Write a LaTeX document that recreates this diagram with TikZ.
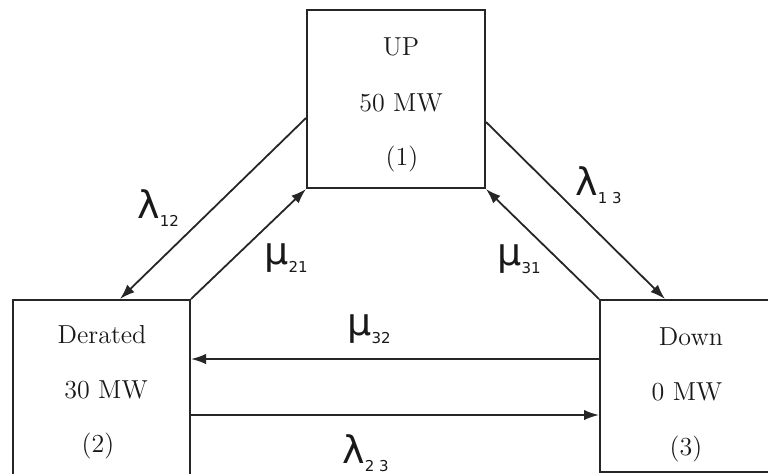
\documentclass[tikz,border=0pt]{standalone}
\usepackage{fontspec}
\newfontfamily\gkfont{DejaVu Sans}
\usetikzlibrary{arrows.meta,calc}
\begin{document}
\begin{tikzpicture}[x=0.5pt,y=-0.5pt,
  statebox/.style={draw=black!85,line width=1pt,rectangle,inner sep=0pt},
  txt/.style={anchor=base,inner sep=0pt,font=\fontsize{13}{15}\selectfont,text=black!90},
  rate/.style={anchor=base west,inner sep=0pt,text=black!90},
  conn/.style={draw=black!85,line width=0.9pt,-{Latex[length=7.5pt,width=5.2pt]}}]
\newcommand{\rlab}[2]{{\gkfont\fontsize{19}{20}\selectfont #1\raisebox{-4pt}{\fontsize{7.5}{8}\selectfont #2}}}
\useasboundingbox (0,0) rectangle (768,473);
% boxes
\node[statebox,minimum width=89pt,minimum height=89pt] (up) at (396,99) {};
\node[statebox,minimum width=88.5pt,minimum height=88pt] (der) at (101.5,388) {};
\node[statebox,minimum width=88pt,minimum height=86pt] (dn) at (688,386) {};
% box texts
\node[txt] (upa) at (401,55) {UP};
\node[txt] (upb) at (401,111) {50 MW};
\node[txt] (upc) at (402,165) {(1)};
\node[txt] (dea) at (102,343) {Derated};
\node[txt] (deb) at (106,398) {30 MW};
\node[txt] (dec) at (98,452) {(2)};
\node[txt] (dna) at (691,345) {Down};
\node[txt] (dnb) at (687,400) {0 MW};
\node[txt] (dnc) at (686,455) {(3)};
% connectors
\draw[conn] ([shift={(0,19)}]up.west) -- ([shift={(18.5,0)}]der.north);
\draw[conn] (der.north east) -- (up.south west);
\draw[conn] (dn.north west) -- (up.south east);
\draw[conn] ([shift={(0,23)}]up.east) -- ([shift={(-23,0)}]dn.north);
\draw[conn] ([shift={(0,-27)}]dn.west) coordinate (m32) -- (der.east |- m32);
\draw[conn] ([shift={(0,27)}]der.east) coordinate (l23) -- (dn.west |- l23);
% rate labels
\node[rate] (l12) at (137,218) {\rlab{λ}{12}};
\node[rate] (m21) at (264,264) {\rlab{μ}{21}};
\node[rate] (m31) at (497,265) {\rlab{μ}{31}};
\node[rate] (l13) at (575,195) {\rlab{λ}{1 3}};
\node[rate] (m32l) at (347,335) {\rlab{μ}{32}};
\node[rate] (l23l) at (342,463) {\rlab{λ}{2 3}};
\end{tikzpicture}
\end{document}
